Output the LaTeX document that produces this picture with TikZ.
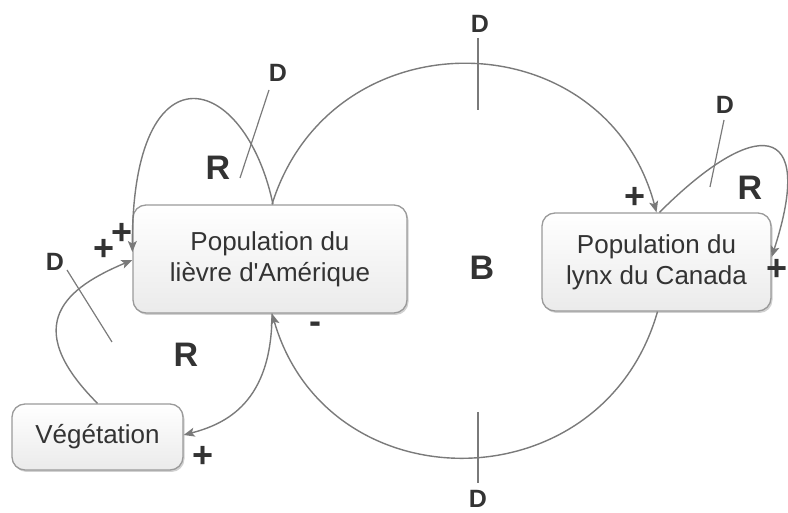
\documentclass[tikz,border=0pt]{standalone}
\usepackage{fontspec}
\setmainfont{Liberation Sans}
\usetikzlibrary{arrows.meta,shadows}
\definecolor{linegray}{HTML}{7A7A7A}
\definecolor{boxline}{HTML}{9A9A9A}
\definecolor{ink}{HTML}{333333}
\begin{document}
\begin{tikzpicture}[x=1pt,y=1pt,
  box/.style={draw=boxline, line width=1.3pt, rounded corners=13pt,
    top color=white, bottom color=black!8, align=center, text=ink,
    font=\fontsize{26}{31}\selectfont, inner sep=0pt,
    drop shadow={shadow xshift=1.5pt, shadow yshift=-2pt, opacity=0.18, fill=black}},
  link/.style={draw=linegray, line width=1.4pt},
  arr/.style={link, -{Stealth[length=11pt,width=9pt,inset=2.5pt]}},
  delay/.style={draw=linegray, line width=1.2pt},
  dlab/.style={text=ink, font=\fontsize{25}{25}\selectfont\bfseries, inner sep=0pt},
  looplab/.style={text=ink, font=\fontsize{34}{34}\selectfont\bfseries, inner sep=0pt},
  sign/.style={text=ink, font=\fontsize{36}{36}\selectfont\bfseries, inner sep=0pt}]
\useasboundingbox (0,0) rectangle (788,512);

% stocks
\node[box, minimum width=274pt, minimum height=108pt] (hare) at (270,253) {Population du\\lièvre d\textquotesingle Amérique};
\node[box, minimum width=229pt, minimum height=98pt] (lynx) at (656.5,250) {Population du\\lynx du Canada};
\node[box, minimum width=171pt, minimum height=66pt] (veg) at (97.5,75) {Végétation};

% balancing loop: hares feed lynx, lynx deplete hares
\draw[arr] ([xshift=2pt]hare.north) to[out=72.6, in=105, looseness=1.33] (lynx.north);
\draw[arr] ([xshift=1pt]lynx.south) to[out=-105.9, in=-73.8, looseness=1.33] ([xshift=2pt]hare.south);

% reinforcing loop of the hare population
\draw[arr] ([xshift=3pt]hare.north) .. controls +(-28,133) and +(0,210) .. ([yshift=7pt]hare.west);

% vegetation loop
\draw[arr] (veg.north) .. controls +(-80,80) and +(-64,-27) .. ([yshift=-1pt]hare.west);
\draw[arr] ([xshift=2pt]hare.south) .. controls +(0,-89) and +(42,11) .. ([yshift=2pt]veg.east);

% reinforcing loop of the lynx population
\draw[arr] ([xshift=3pt]lynx.north) .. controls +(45:135) and +(72:145) .. ([yshift=5pt]lynx.east);

% delay marks
\coordinate (dt1) at (478,474); \coordinate (dt2) at (478,402);
\coordinate (db1) at (478,100); \coordinate (db2) at (478,29);
\coordinate (dh1) at (269,422); \coordinate (dh2) at (240,334);
\coordinate (dv1) at (67,242);  \coordinate (dv2) at (112,170);
\coordinate (dl1) at (724,392); \coordinate (dl2) at (710,325);
\draw[delay] (dt1) -- (dt2);
\draw[delay] (db1) -- (db2);
\draw[delay] (dh1) -- (dh2);
\draw[delay] (dv1) -- (dv2);
\draw[delay] (dl1) -- (dl2);
\node[dlab] (Dt) at (480,488) {D};
\node[dlab] (Db) at (478,13) {D};
\node[dlab] (Dh) at (278,439) {D};
\node[dlab] (Dv) at (55,250) {D};
\node[dlab] (Dl) at (725,407) {D};

% loop labels
\node[looplab] (Rh) at (218,344) {R};
\node[looplab] (Rv) at (186,157) {R};
\node[looplab] (Rl) at (750,324) {R};
\node[looplab] (B) at (482,244) {B};

% polarities
\node[sign] (p1) at (122,278) {+};
\node[sign] (p2) at (104,262) {+};
\node[sign] (p3) at (203,55) {+};
\node[sign] (p4) at (635,314) {+};
\node[sign] (p5) at (777,242) {+};
\node[sign] (m1) at (315,184) {-};
\end{tikzpicture}
\end{document}
